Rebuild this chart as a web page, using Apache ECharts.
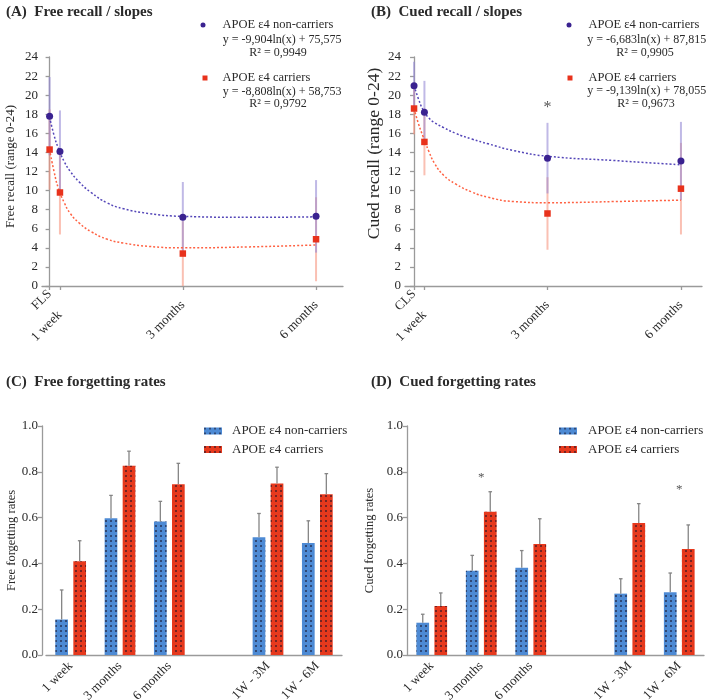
<!DOCTYPE html>
<html>
<head>
<meta charset="utf-8">
<script src="https://cdn.jsdelivr.net/npm/echarts@6/dist/echarts.min.js"></script>
<style>
html,body{margin:0;padding:0;background:#fff;}
#main{width:709px;height:700px;}
</style>
</head>
<body>
<div id="main"></div>
<script>
// recall over time (days after learning session)
var timeDays = [0, 7, 90, 180];
var freeTicks = ['FLS', '1 week', '3 months', '6 months'];
var cuedTicks = ['CLS', '1 week', '3 months', '6 months'];

var freeNonMean = [17.8, 14.1, 7.2, 7.3];
var freeNonErr = [4.1, 4.3, 3.7, 3.8];
var freeCarMean = [14.3, 9.8, 3.4, 4.9];
var freeCarErr = [4.2, 4.4, 3.4, 4.4];

var cuedNonMean = [21.0, 18.2, 13.4, 13.1];
var cuedNonErr = [2.5, 3.3, 3.7, 4.1];
var cuedCarMean = [18.6, 15.1, 7.6, 10.2];
var cuedCarErr = [2.7, 3.5, 3.8, 4.8];

// log fits
var fitDays = [0, 3, 6, 10, 14, 20, 28, 39, 50, 67, 90, 135, 180];
var freeNonFit = [17.7, 15.8, 14.4, 13.0, 12.0, 10.9, 9.8, 8.7, 8.1, 7.6, 7.3, 7.2, 7.25];
var freeCarFit = [14.3, 12.0, 10.2, 8.7, 7.6, 6.6, 5.7, 4.9, 4.5, 4.15, 4.0, 4.1, 4.3];
var cuedNonFit = [21.0, 19.6, 18.5, 17.6, 17.1, 16.6, 16.0, 15.4, 14.9, 14.2, 13.6, 13.15, 12.7];
var cuedCarFit = [18.6, 17.0, 15.7, 14.1, 12.8, 11.6, 10.7, 9.85, 9.3, 8.85, 8.73, 8.85, 9.0];

var freeEq = ['y = -9,904ln(x) + 75,575', 'R\u00b2 = 0,9949', 'y = -8,808ln(x) + 58,753', 'R\u00b2 = 0,9792'];
var cuedEq = ['y = -6,683ln(x) + 87,815', 'R\u00b2 = 0,9905', 'y = -9,139ln(x) + 78,055', 'R\u00b2 = 0,9673'];

// forgetting rates
var rateCats = ['1 week', '3 months', '6 months', '', '1W - 3M', '1W - 6M'];
var freeRateNon = [0.155, 0.597, 0.583, null, 0.514, 0.489];
var freeRateNonTop = [0.284, 0.697, 0.671, null, 0.618, 0.586];
var freeRateCar = [0.409, 0.826, 0.746, null, 0.749, 0.702];
var freeRateCarTop = [0.499, 0.890, 0.837, null, 0.820, 0.792];
var cuedRateNon = [0.141, 0.368, 0.381, null, 0.268, 0.274];
var cuedRateNonTop = [0.178, 0.435, 0.456, null, 0.333, 0.358];
var cuedRateCar = [0.214, 0.626, 0.485, null, 0.576, 0.463];
var cuedRateCarTop = [0.271, 0.713, 0.595, null, 0.661, 0.568];

var cuedStar = [[90, 19.0]];
var cuedRateStar = [[1, 0.79], [5, 0.736]];

var NON = 'APOE \u03b54 non-carriers';
var CAR = 'APOE \u03b54 carriers';
var serif = "'Liberation Serif', 'DejaVu Serif', serif";
var txt = '#2a2a2a';
var axisCol = '#9a9a9a';

var dotBlue = '#3a2290', dotRed = '#e8321c';
var errBlue = 'rgba(150,138,214,0.6)', errRed = 'rgba(246,150,128,0.6)';
var barBlue = '#4d8ad4', barRed = '#e6391d';

function pairs(xs, ys) {
	var out = [];
	for (var i = 0; i < xs.length; i++) out.push([xs[i], ys[i]]);
	return out;
}
function errData(xs, m, e) {
	var out = [];
	for (var i = 0; i < xs.length; i++) out.push([xs[i], m[i] - e[i], m[i] + e[i]]);
	return out;
}
function rateData(m, top) {
	var out = [];
	for (var i = 0; i < m.length; i++) {
		if (m[i] != null) out.push([i, m[i], top[i]]);
	}
	return out;
}

function vErr(color) {
	return function (params, api) {
		var a = api.coord([api.value(0), api.value(1)]);
		var b = api.coord([api.value(0), api.value(2)]);
		return {type: 'line', shape: {x1: a[0], y1: a[1], x2: b[0], y2: b[1]},
			style: {stroke: color, lineWidth: 2}};
	};
}
function barErr(offset) {
	return function (params, api) {
		var a = api.coord([api.value(0), api.value(1)]);
		var b = api.coord([api.value(0), api.value(2)]);
		var x = a[0] + offset;
		return {type: 'group', children: [
			{type: 'line', shape: {x1: x, y1: a[1], x2: x, y2: b[1]}, style: {stroke: '#858585', lineWidth: 1.3}},
			{type: 'line', shape: {x1: x - 1.8, y1: b[1], x2: x + 1.8, y2: b[1]}, style: {stroke: '#858585', lineWidth: 1.3}}
		]};
	};
}

function decal() {
	return {symbol: 'rect', symbolSize: 1, color: 'rgba(25,20,40,0.55)',
		dashArrayX: [1.3, 2.9], dashArrayY: [1.3, 2.9], maxTileWidth: 64, maxTileHeight: 64};
}

// main time axis: line, all ticks, first label only
function timeAxis(grid, min, max, names) {
	return {
		type: 'value', gridIndex: grid, min: min, max: max, position: 'bottom',
		splitLine: {show: false},
		axisLine: {lineStyle: {color: axisCol, width: 1.3}},
		axisTick: {customValues: timeDays, length: 4, lineStyle: {color: axisCol, width: 1.3}},
		axisLabel: {customValues: [timeDays[0]], rotate: 45, margin: 6, color: txt, fontFamily: serif, fontSize: 13,
			formatter: function (v) { return names[timeDays.indexOf(v)]; }}
	};
}
// overlay axes that only carry labels (the originals sit lower than the first one)
function labelAxis(grid, min, max, names, values, margin) {
	return {
		type: 'value', gridIndex: grid, min: min, max: max, position: 'bottom', offset: 0,
		splitLine: {show: false}, axisLine: {show: false}, axisTick: {show: false},
		axisLabel: {customValues: values, rotate: 45, margin: margin, color: txt, fontFamily: serif, fontSize: 13,
			formatter: function (v) { return names[timeDays.indexOf(v)]; }}
	};
}
function recallAxis(grid, name, nameSize, gap, shift) {
	return {
		type: 'value', gridIndex: grid, min: 0, max: 24, interval: 2,
		name: name, nameLocation: 'middle', nameGap: gap,
		nameTextStyle: {color: txt, fontFamily: serif, fontSize: nameSize, padding: [0, 0, 0, shift]},
		splitLine: {show: false},
		axisLine: {show: true, lineStyle: {color: axisCol, width: 1.3}},
		axisTick: {show: true, length: 4, lineStyle: {color: axisCol, width: 1.3}},
		axisLabel: {color: txt, fontFamily: serif, fontSize: 13, margin: 4}
	};
}
function catAxis(grid) {
	return {
		type: 'category', gridIndex: grid, data: rateCats,
		axisLine: {lineStyle: {color: axisCol, width: 1.3}},
		axisTick: {alignWithLabel: true, length: 4, lineStyle: {color: axisCol, width: 1.3}},
		axisLabel: {rotate: 45, margin: 9, color: txt, fontFamily: serif, fontSize: 13, interval: 0}
	};
}
function rateAxis(grid, name, gap, offset) {
	return {
		type: 'value', gridIndex: grid, min: 0, max: 1, interval: 0.2, offset: offset,
		name: name, nameLocation: 'middle', nameGap: gap,
		nameTextStyle: {color: txt, fontFamily: serif, fontSize: 12.5},
		splitLine: {show: false},
		axisLine: {show: true, lineStyle: {color: axisCol, width: 1.3}},
		axisTick: {show: true, length: 4, lineStyle: {color: axisCol, width: 1.3}},
		axisLabel: {color: txt, fontFamily: serif, fontSize: 13, margin: 4,
			formatter: function (v) { return v.toFixed(1); }}
	};
}

function eqText(x, y, s, align) {
	return {type: 'text', x: x, y: y,
		style: {text: s, fill: txt, font: '12px ' + serif, textAlign: align, textVerticalAlign: 'middle'}};
}

function pointLegend(name, left, top, pad) {
	return {data: [name], left: left, top: top, padding: 0, itemWidth: 5, itemHeight: 5,
		formatter: function (n) { return n.indexOf('non') >= 0 ? NON : CAR; },
		textStyle: {color: txt, fontFamily: serif, fontSize: 12.5, padding: [0, 0, 0, pad]}, selectedMode: false};
}

var chart = echarts.init(document.getElementById('main'));

var option = {
	animation: false,
	backgroundColor: '#fff',
	title: [
		{text: '(A)  Free recall / slopes', left: 1, top: 0, textStyle: {fontFamily: serif, fontSize: 15, fontWeight: 'bold', color: txt}},
		{text: '(B)  Cued recall / slopes', left: 366, top: 0, textStyle: {fontFamily: serif, fontSize: 15, fontWeight: 'bold', color: txt}},
		{text: '(C)  Free forgetting rates', left: 1, top: 370, textStyle: {fontFamily: serif, fontSize: 15, fontWeight: 'bold', color: txt}},
		{text: '(D)  Cued forgetting rates', left: 366, top: 370, textStyle: {fontFamily: serif, fontSize: 15, fontWeight: 'bold', color: txt}}
	],
	legend: [
		pointLegend('A non', 200.5, 18.5, 12),
		pointLegend('A car', 202.5, 71.5, 10),
		pointLegend('B non', 566.5, 18.5, 12),
		pointLegend('B car', 567.5, 71.5, 11),
		{data: [NON, CAR], left: 204, top: 423, padding: 0, orient: 'vertical', itemWidth: 18, itemHeight: 7, itemGap: 2.5,
			icon: 'rect', selectedMode: false,
			textStyle: {color: txt, fontFamily: serif, fontSize: 13, lineHeight: 16, padding: [0, 0, 0, 5]}},
		{data: [NON, CAR], left: 559, top: 423, padding: 0, orient: 'vertical', itemWidth: 18, itemHeight: 7, itemGap: 2.5,
			icon: 'rect', selectedMode: false,
			textStyle: {color: txt, fontFamily: serif, fontSize: 13, lineHeight: 16, padding: [0, 0, 0, 6]}}
	],
	grid: [
		{left: 42, top: 57, width: 301, height: 229, outerBoundsMode: 'none'},
		{left: 405, top: 57, width: 297, height: 229, outerBoundsMode: 'none'},
		{left: 46, top: 426, width: 296, height: 229, outerBoundsMode: 'none'},
		{left: 407, top: 426, width: 297, height: 229, outerBoundsMode: 'none'}
	],
	xAxis: [
		timeAxis(0, -5.13, 198.2, freeTicks),
		timeAxis(1, -6.1, 194.2, cuedTicks),
		catAxis(2),
		catAxis(3),
		labelAxis(0, -5.13, 198.2, freeTicks, [timeDays[1]], 27),
		labelAxis(1, -6.1, 194.2, cuedTicks, [timeDays[1]], 27),
		labelAxis(0, -5.13, 198.2, freeTicks, [timeDays[2], timeDays[3]], 17),
		labelAxis(1, -6.1, 194.2, cuedTicks, [timeDays[2], timeDays[3]], 17)
	],
	yAxis: [
		recallAxis(0, 'Free recall (range 0-24)', 13, 25, 10),
		recallAxis(1, 'Cued recall (range 0-24)', 17.5, 22, 36),
		rateAxis(2, 'Free forgetting rates', 23, 4),
		rateAxis(3, 'Cued forgetting rates', 31, 0)
	],
	graphic: [
		eqText(222.7, 40, freeEq[0], 'left'), eqText(278, 53, freeEq[1], 'center'),
		eqText(222.7, 92, freeEq[2], 'left'), eqText(278, 104, freeEq[3], 'center'),
		eqText(587.3, 40, cuedEq[0], 'left'), eqText(645, 52.7, cuedEq[1], 'center'),
		eqText(587.3, 90.7, cuedEq[2], 'left'), eqText(646, 104, cuedEq[3], 'center')
	],
	series: [
		// C / D bars first so the shared legends take their icons
		{name: NON, type: 'bar', xAxisIndex: 2, yAxisIndex: 2, data: freeRateNon, barWidth: 12.7, barGap: '42%',
			itemStyle: {color: barBlue, decal: decal()}},
		{name: CAR, type: 'bar', xAxisIndex: 2, yAxisIndex: 2, data: freeRateCar, barWidth: 12.7, barGap: '42%',
			itemStyle: {color: barRed, decal: decal()}},
		{name: NON, type: 'bar', xAxisIndex: 3, yAxisIndex: 3, data: cuedRateNon, barWidth: 12.7, barGap: '42%',
			itemStyle: {color: barBlue, decal: decal()}},
		{name: CAR, type: 'bar', xAxisIndex: 3, yAxisIndex: 3, data: cuedRateCar, barWidth: 12.7, barGap: '42%',
			itemStyle: {color: barRed, decal: decal()}},
		{type: 'custom', xAxisIndex: 2, yAxisIndex: 2, renderItem: barErr(-9), data: rateData(freeRateNon, freeRateNonTop), z: 3},
		{type: 'custom', xAxisIndex: 2, yAxisIndex: 2, renderItem: barErr(9), data: rateData(freeRateCar, freeRateCarTop), z: 3},
		{type: 'custom', xAxisIndex: 3, yAxisIndex: 3, renderItem: barErr(-9), data: rateData(cuedRateNon, cuedRateNonTop), z: 3},
		{type: 'custom', xAxisIndex: 3, yAxisIndex: 3, renderItem: barErr(9), data: rateData(cuedRateCar, cuedRateCarTop), z: 3},

		// A: free recall
		{type: 'custom', xAxisIndex: 0, yAxisIndex: 0, renderItem: vErr(errRed), data: errData(timeDays, freeCarMean, freeCarErr), z: 1},
		{type: 'custom', xAxisIndex: 0, yAxisIndex: 0, renderItem: vErr(errBlue), data: errData(timeDays, freeNonMean, freeNonErr), z: 2},
		{type: 'line', xAxisIndex: 0, yAxisIndex: 0, data: pairs(fitDays, freeNonFit), smooth: true, showSymbol: false,
			lineStyle: {color: '#5446b8', width: 1.5, type: [2, 2]}, z: 3},
		{type: 'line', xAxisIndex: 0, yAxisIndex: 0, data: pairs(fitDays, freeCarFit), smooth: true, showSymbol: false,
			lineStyle: {color: '#ff6142', width: 1.5, type: [2, 2]}, z: 3},
		{name: 'A car', type: 'scatter', xAxisIndex: 0, yAxisIndex: 0, data: pairs(timeDays, freeCarMean),
			symbol: 'rect', symbolSize: 6.5, itemStyle: {color: dotRed, opacity: 1}, z: 4},
		{name: 'A non', type: 'scatter', xAxisIndex: 0, yAxisIndex: 0, data: pairs(timeDays, freeNonMean),
			symbol: 'circle', symbolSize: 7, itemStyle: {color: dotBlue, opacity: 1}, z: 5},

		// B: cued recall
		{type: 'custom', xAxisIndex: 1, yAxisIndex: 1, renderItem: vErr(errRed), data: errData(timeDays, cuedCarMean, cuedCarErr), z: 1},
		{type: 'custom', xAxisIndex: 1, yAxisIndex: 1, renderItem: vErr(errBlue), data: errData(timeDays, cuedNonMean, cuedNonErr), z: 2},
		{type: 'line', xAxisIndex: 1, yAxisIndex: 1, data: pairs(fitDays, cuedNonFit), smooth: true, showSymbol: false,
			lineStyle: {color: '#5446b8', width: 1.5, type: [2, 2]}, z: 3},
		{type: 'line', xAxisIndex: 1, yAxisIndex: 1, data: pairs(fitDays, cuedCarFit), smooth: true, showSymbol: false,
			lineStyle: {color: '#ff6142', width: 1.5, type: [2, 2]}, z: 3},
		{name: 'B car', type: 'scatter', xAxisIndex: 1, yAxisIndex: 1, data: pairs(timeDays, cuedCarMean),
			symbol: 'rect', symbolSize: 6.5, itemStyle: {color: dotRed, opacity: 1}, z: 4},
		{name: 'B non', type: 'scatter', xAxisIndex: 1, yAxisIndex: 1, data: pairs(timeDays, cuedNonMean),
			symbol: 'circle', symbolSize: 7, itemStyle: {color: dotBlue, opacity: 1}, z: 5},

		// significance marks
		{type: 'scatter', xAxisIndex: 1, yAxisIndex: 1, data: cuedStar, symbolSize: 0,
			label: {show: true, position: 'inside', formatter: '*', color: txt, fontFamily: serif, fontSize: 16, offset: [0, 3]}},
		{type: 'scatter', xAxisIndex: 3, yAxisIndex: 3, data: cuedRateStar, symbolSize: 0,
			label: {show: true, position: 'inside', formatter: '*', color: txt, fontFamily: serif, fontSize: 13, offset: [0, 3]}}
	]
};

chart.setOption(option);
</script>
</body>
</html>
